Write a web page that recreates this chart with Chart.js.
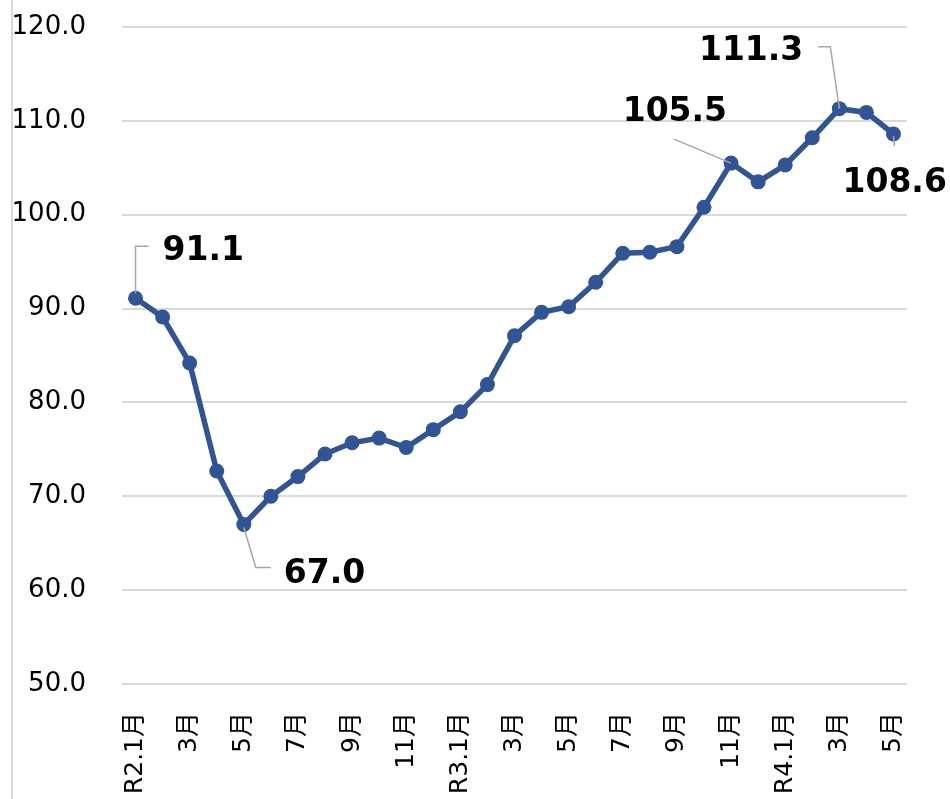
<!DOCTYPE html>
<html>
<head>
<meta charset="utf-8">
<script src="https://cdn.jsdelivr.net/npm/chart.js@4.4.1/dist/chart.umd.min.js"></script>
<style>
  html, body { margin: 0; padding: 0; background: #fff; }
  #wrap { width: 950px; height: 799px; position: relative; }
</style>
</head>
<body>
<div id="wrap"><canvas id="chart" width="950" height="799"></canvas></div>
<script>
// months R2.1 - R4.5
const months = [
  'R2.1月', '2月', '3月', '4月', '5月', '6月', '7月', '8月', '9月', '10月', '11月', '12月',
  'R3.1月', '2月', '3月', '4月', '5月', '6月', '7月', '8月', '9月', '10月', '11月', '12月',
  'R4.1月', '2月', '3月', '4月', '5月'
];
const values = [
  91.1, 89.1, 84.2, 72.7, 67.0, 70.0, 72.1, 74.5, 75.7, 76.2, 75.2, 77.1,
  79.0, 81.9, 87.1, 89.6, 90.2, 92.8, 95.9, 96.0, 96.6, 100.8, 105.5, 103.5,
  105.3, 108.2, 111.3, 110.9, 108.6
];
const yTicks = [50, 60, 70, 80, 90, 100, 110, 120];

// callouts: which point, leader path and text offset (px from the point)
const callouts = [
  { index: 0,  path: [[0, -5], [0, -52], [13, -52]], text: [27, -47], align: 'left' },
  { index: 4,  path: [[0, 3], [12, 43], [27, 43]],   text: [40, 50],  align: 'left' },
  { index: 22, path: [[0, 0], [-57, -24]],           text: [-4, -51], align: 'right' },
  { index: 26, path: [[0, 0], [-9, -62], [-21, -62]], text: [-36, -57], align: 'right' },
  { index: 28, path: [[0, 2], [1, 12]],              text: [-51, 49], align: 'left' }
];

const calloutPlugin = {
  id: 'callouts',
  afterDatasetsDraw(chart) {
    const ctx = chart.ctx;
    const meta = chart.getDatasetMeta(0);
    ctx.save();
    callouts.forEach(c => {
      const pt = meta.data[c.index];
      ctx.strokeStyle = '#a6a6a6';
      ctx.lineWidth = 1.5;
      ctx.beginPath();
      c.path.forEach((p, i) => {
        if (i === 0) ctx.moveTo(pt.x + p[0], pt.y + p[1]);
        else ctx.lineTo(pt.x + p[0], pt.y + p[1]);
      });
      ctx.stroke();
      ctx.fillStyle = '#000';
      ctx.font = 'bold 33px "DejaVu Sans", Verdana, sans-serif';
      ctx.textAlign = c.align;
      ctx.textBaseline = 'middle';
      ctx.fillText(values[c.index].toFixed(1), pt.x + c.text[0], pt.y + c.text[1]);
    });
    ctx.restore();
  }
};

const framePlugin = {
  id: 'frame',
  beforeDraw(chart) {
    const ctx = chart.ctx;
    ctx.save();
    ctx.fillStyle = '#fff';
    ctx.fillRect(0, 0, chart.width, chart.height);
    ctx.strokeStyle = '#d9d9d9';
    ctx.lineWidth = 2;
    ctx.beginPath();
    ctx.moveTo(12, 0);
    ctx.lineTo(12, chart.height);
    ctx.stroke();
    ctx.restore();
  }
};

new Chart(document.getElementById('chart'), {
  type: 'line',
  data: {
    labels: months,
    datasets: [{
      data: values,
      borderColor: '#2f5597',
      backgroundColor: '#2f5597',
      borderWidth: 5.5,
      pointRadius: 7.5,
      pointHoverRadius: 7.5,
      pointBorderWidth: 0,
      tension: 0
    }]
  },
  options: {
    responsive: false,
    animation: false,
    layout: { padding: { left: 12, right: 43, top: 27, bottom: 0 } },
    plugins: {
      legend: { display: false },
      tooltip: { enabled: false }
    },
    scales: {
      x: {
        offset: true,
        grid: { display: false, drawTicks: false },
        border: { display: false },
        afterFit: scale => {
          scale.height = 115;
          scale.paddingLeft = 0;
          scale.paddingRight = 0;
          scale.paddingTop = 0;
          scale.paddingBottom = 0;
        },
        ticks: {
          autoSkip: false,
          maxRotation: 90,
          minRotation: 90,
          padding: 28,
          color: '#000',
          font: { family: '"DejaVu Sans", Verdana, "Noto Sans CJK JP", sans-serif', size: 25 },
          callback: function(v, i) {
            return i % 2 === 0 ? this.getLabelForValue(v) : '';
          }
        }
      },
      y: {
        min: 50,
        max: 120,
        afterFit: scale => {
          scale.width = 110;
          scale.paddingTop = 0;
          scale.paddingBottom = 0;
        },
        afterBuildTicks: scale => { scale.ticks = yTicks.map(v => ({ value: v })); },
        grid: { color: '#d9d9d9', lineWidth: 2, drawTicks: false },
        border: { display: false },
        ticks: {
          padding: 36,
          color: '#000',
          font: { family: '"DejaVu Sans", Verdana, sans-serif', size: 26 },
          callback: v => v.toFixed(1)
        }
      }
    }
  },
  plugins: [framePlugin, calloutPlugin]
});
</script>
</body>
</html>
